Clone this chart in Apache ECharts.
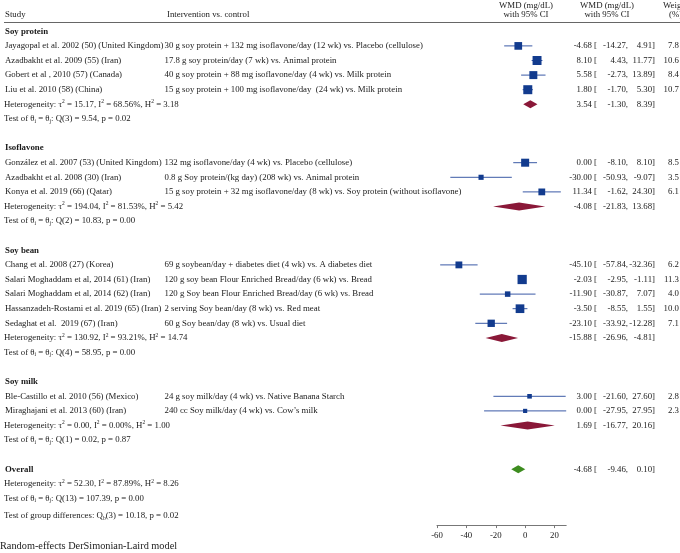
<!DOCTYPE html>
<html><head><meta charset="utf-8">
<script src="https://cdn.jsdelivr.net/npm/echarts@6/dist/echarts.min.js"></script>
<style>html,body{margin:0;padding:0;background:#fff}#c{width:680px;height:553px}</style>
</head><body><div id="c"></div>
<script>
// ---------- data ----------
const groups = ['Soy protein', 'Isoflavone', 'Soy bean', 'Soy milk'];
const studyGroup = [0, 0, 0, 0, 1, 1, 1, 2, 2, 2, 2, 2, 3, 3];
const studies = [
  'Jayagopal et al. 2002 (50) (United Kingdom)',
  'Azadbakht et al. 2009 (55) (Iran)',
  'Gobert et al , 2010 (57) (Canada)',
  'Liu et al. 2010 (58) (China)',
  'González et al. 2007 (53) (United Kingdom)',
  'Azadbakht et al. 2008 (30) (Iran)',
  'Konya et al. 2019 (66) (Qatar)',
  'Chang et al. 2008 (27) (Korea)',
  'Salari Moghaddam et al, 2014 (61) (Iran)',
  'Salari Moghaddam et al, 2014 (62) (Iran)',
  'Hassanzadeh-Rostami et al. 2019 (65) (Iran)',
  'Sedaghat et al.  2019 (67) (Iran)',
  'Ble-Castillo et al. 2010 (56) (Mexico)',
  'Miraghajani et al. 2013 (60) (Iran)'
];
const interventions = [
  '30 g soy protein + 132 mg isoflavone/day (12 wk) vs. Placebo (cellulose)',
  '17.8 g soy protein/day (7 wk) vs. Animal protein',
  '40 g soy protein + 88 mg isoflavone/day (4 wk) vs. Milk protein',
  '15 g soy protein + 100 mg isoflavone/day  (24 wk) vs. Milk protein',
  '132 mg isoflavone/day (4 wk) vs. Placebo (cellulose)',
  '0.8 g Soy protein/(kg day) (208 wk) vs. Animal protein',
  '15 g soy protein + 32 mg isoflavone/day (8 wk) vs. Soy protein (without isoflavone)',
  '69 g soybean/day + diabetes diet (4 wk) vs. A diabetes diet',
  '120 g soy bean Flour Enriched Bread/day (6 wk) vs. Bread',
  '120 g Soy bean Flour Enriched Bread/day (6 wk) vs. Bread',
  '2 serving Soy bean/day (8 wk) vs. Red meat',
  '60 g Soy bean/day (8 wk) vs. Usual diet',
  '24 g soy milk/day (4 wk) vs. Native Banana Starch',
  '240 cc Soy milk/day (4 wk) vs. Cow\u2019s milk'
];
const est   = [-4.68, 8.10, 5.58, 1.80, 0.00, -30.00, 11.34, -45.10, -2.03, -11.90, -3.50, -23.10, 3.00, 0.00];
const lower = [-14.27, 4.43, -2.73, -1.70, -8.10, -50.93, -1.62, -57.84, -2.95, -30.87, -8.55, -33.92, -21.60, -27.95];
const upper = [4.91, 11.77, 13.89, 5.30, 8.10, -9.07, 24.30, -32.36, -1.11, 7.07, 1.55, -12.28, 27.60, 27.95];
const weights = ['7.8', '10.6', '8.4', '10.7', '8.5', '3.5', '6.1', '6.2', '11.3', '4.0', '10.0', '7.1', '2.8', '2.3'];

const groupEst   = [3.54, -4.08, -15.88, 1.69];
const groupLower = [-1.30, -21.83, -26.96, -16.77];
const groupUpper = [8.39, 13.68, -4.81, 20.16];
const groupTau2  = ['15.17', '194.04', '130.92', '0.00'];
const groupI2    = ['68.56%', '81.53%', '93.21%', '0.00%'];
const groupH2    = ['3.18', '5.42', '14.74', '1.00'];
const groupQdf   = [3, 2, 4, 1];
const groupQ     = ['9.54', '10.83', '58.95', '0.02'];
const groupP     = ['0.02', '0.00', '0.00', '0.87'];

const overall = {est: -4.68, lower: -9.46, upper: 0.10, tau2: '52.30', i2: '87.89%', h2: '8.26', qdf: 13, q: '107.39', p: '0.00'};
const groupDiff = {df: 3, q: '10.18', p: '0.02'};
const xTicks = [-60, -40, -20, 0, 20];

// ---------- layout ----------
const FONT = 'Liberation Serif';
const FS = 8.8;
const TXT = '#1a1a1a';
const COL_STUDY = 5, COL_INT = 164.5, COL_EST = 592, COL_BR = 594, COL_LO = 628, COL_HI = 655, COL_W = 679;
const ROW0 = 31.3, ROWH = 14.6;
const kMin = -ROW0 / ROWH, kMaxText = (553 - ROW0) / ROWH, kMaxPlot = (525.1 - ROW0) / ROWH;

const fmt = v => v.toFixed(2);
const texts = [];    // [x, k, text, align, kind]
const squares = [];  // [est, lo, hi, k, w]
const diamonds = []; // [est, lo, hi, k, type]

function ciTexts(k, e, lo, hi) {
  texts.push([COL_EST, k, fmt(e), 'right', 'n']);
  texts.push([COL_BR, k, '[', 'left', 'n']);
  texts.push([COL_LO, k, fmt(lo) + ',', 'right', 'n']);
  texts.push([COL_HI, k, fmt(hi) + ']', 'right', 'n']);
}
const hetText = (t, i, h) => 'Heterogeneity: \u03c4{sup|2} = ' + t + ', I{sup|2} = ' + i + ', H{sup|2} = ' + h;
const testText = (df, q, p) => 'Test of \u03b8{sub|i} = \u03b8{sub|j}: Q(' + df + ') = ' + q + ', p = ' + p;

// header
texts.push([COL_STUDY, -1.116, 'Study', 'left', 'n']);
texts.push([167, -1.116, 'Intervention vs. control', 'left', 'n']);
texts.push([526, -1.733, 'WMD (mg/dL)', 'center', 'n']);
texts.push([526, -1.116, 'with 95% CI', 'center', 'n']);
texts.push([607, -1.733, 'WMD (mg/dL)', 'center', 'n']);
texts.push([607, -1.116, 'with 95% CI', 'center', 'n']);
texts.push([663, -1.733, 'Weight', 'left', 'n']);
texts.push([669, -1.116, '(%)', 'left', 'n']);

let k = 0;
groups.forEach((g, gi) => {
  texts.push([COL_STUDY, k, g, 'left', 'b']);
  k++;
  studies.forEach((s, si) => {
    if (studyGroup[si] !== gi) return;
    texts.push([COL_STUDY, k, s, 'left', 'n']);
    texts.push([COL_INT, k, interventions[si], 'left', 'n']);
    ciTexts(k, est[si], lower[si], upper[si]);
    texts.push([COL_W, k, weights[si], 'right', 'n']);
    squares.push([est[si], lower[si], upper[si], k, parseFloat(weights[si])]);
    k++;
  });
  texts.push([COL_STUDY - 1, k, hetText(groupTau2[gi], groupI2[gi], groupH2[gi]), 'left', 'r']);
  ciTexts(k, groupEst[gi], groupLower[gi], groupUpper[gi]);
  diamonds.push([groupEst[gi], groupLower[gi], groupUpper[gi], k, 0]);
  k++;
  texts.push([COL_STUDY - 1, k, testText(groupQdf[gi], groupQ[gi], groupP[gi]), 'left', 'r']);
  k += 2;
});
texts.push([COL_STUDY, k, 'Overall', 'left', 'b']);
ciTexts(k, overall.est, overall.lower, overall.upper);
diamonds.push([overall.est, overall.lower, overall.upper, k, 1]);
k++;
texts.push([COL_STUDY - 1, k, hetText(overall.tau2, overall.i2, overall.h2), 'left', 'r']);
k++;
texts.push([COL_STUDY - 1, k, testText(overall.qdf, overall.q, overall.p), 'left', 'r']);
k++;
texts.push([COL_STUDY - 1, k + 0.18, 'Test of group differences: Q{sub|b}(' + groupDiff.df + ') = ' + groupDiff.q + ', p = ' + groupDiff.p, 'left', 'r']);
texts.push([0, k + 2.25, 'Random-effects DerSimonian-Laird model', 'left', 'f']);

const rich = {
  sup: {fontSize: 5.5, fontFamily: FONT, fill: TXT, verticalAlign: 'top', lineHeight: 11},
  sub: {fontSize: 5.5, fontFamily: FONT, fill: TXT, verticalAlign: 'bottom', lineHeight: 11}
};

const chart = echarts.init(document.getElementById('c'), null, {renderer: 'canvas'});
chart.setOption({
  animation: false,
  backgroundColor: '#fff',
  grid: [
    {left: 437, width: 129.2, top: 0, height: 525.1},
    {left: 0, right: 0, top: 0, bottom: 0}
  ],
  xAxis: [
    {
      type: 'value', gridIndex: 0, min: -60, max: 27.95, interval: 20, position: 'bottom',
      splitLine: {show: false},
      axisLine: {show: true, onZero: false, lineStyle: {color: '#777', width: 1}},
      axisTick: {show: true, length: 3, lineStyle: {color: '#777'}, customValues: xTicks},
      axisLabel: {customValues: xTicks, margin: 6, fontFamily: FONT, fontSize: FS, color: TXT}
    },
    {type: 'value', gridIndex: 1, min: 0, max: 680, show: false}
  ],
  yAxis: [
    {type: 'value', gridIndex: 0, min: kMin, max: kMaxPlot, inverse: true, show: false},
    {type: 'value', gridIndex: 1, min: kMin, max: kMaxText, inverse: true, show: false}
  ],
  series: [
    {
      type: 'custom', xAxisIndex: 1, yAxisIndex: 1, clip: false,
      data: texts.map((t, i) => [t[0], t[1], i]),
      renderItem: (params, api) => {
        const t = texts[api.value(2)];
        const p = api.coord([t[0], t[1]]);
        const kind = t[4];
        return {
          type: 'text', x: p[0], y: p[1],
          style: {
            text: t[2], fill: TXT, fontFamily: FONT,
            fontSize: kind === 'f' ? 10.3 : FS,
            fontWeight: kind === 'b' ? 'bold' : 'normal',
            align: t[3], verticalAlign: 'middle',
            rich: kind === 'r' ? rich : undefined
          }
        };
      }
    },
    {
      // header separator line
      type: 'custom', xAxisIndex: 1, yAxisIndex: 1, clip: false,
      data: [[4, -0.603, 680]],
      renderItem: (params, api) => {
        const a = api.coord([api.value(0), api.value(1)]);
        const b = api.coord([api.value(2), api.value(1)]);
        const y = Math.round(a[1]) + 0.5;
        return {type: 'line', shape: {x1: a[0], y1: y, x2: b[0], y2: y},
                style: {stroke: '#666', lineWidth: 1}};
      }
    },
    {
      // study CIs and weight squares
      type: 'custom', xAxisIndex: 0, yAxisIndex: 0, clip: false,
      data: squares,
      renderItem: (params, api) => {
        const y = api.coord([0, api.value(3)])[1];
        const xe = api.coord([api.value(0), 0])[0];
        const xl = api.coord([api.value(1), 0])[0];
        const xh = api.coord([api.value(2), 0])[0];
        const s = 2.75 * Math.sqrt(api.value(4));
        return {type: 'group', children: [
          {type: 'line', shape: {x1: xl, y1: y, x2: xh, y2: y}, style: {stroke: '#3b5aa6', lineWidth: 1}},
          {type: 'rect', shape: {x: xe - s / 2, y: y - s / 2, width: s, height: s}, style: {fill: '#123b8e'}}
        ]};
      }
    },
    {
      // pooled diamonds
      type: 'custom', xAxisIndex: 0, yAxisIndex: 0, clip: false,
      data: diamonds,
      renderItem: (params, api) => {
        const y = api.coord([0, api.value(3)])[1];
        const xe = api.coord([api.value(0), 0])[0];
        const xl = api.coord([api.value(1), 0])[0];
        const xh = api.coord([api.value(2), 0])[0];
        const h = 4;
        return {type: 'polygon', shape: {points: [[xl, y], [xe, y - h], [xh, y], [xe, y + h]]},
                style: {fill: api.value(4) === 1 ? '#3d8c1f' : '#8a1838'}};
      }
    }
  ]
});
</script>
</body></html>
